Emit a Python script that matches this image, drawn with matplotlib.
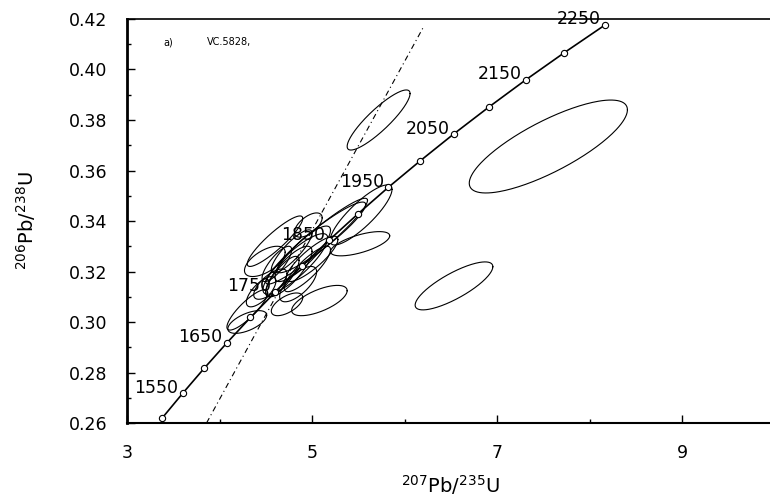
import numpy as np
import matplotlib.pyplot as plt

# concordia ticks (Ma) and their ratios
ages = [1500, 1550, 1600, 1650, 1700, 1750, 1800, 1850,
        1900, 1950, 2000, 2050, 2100, 2150, 2200, 2250]
conc_x = [3.381, 3.603, 3.835, 4.079, 4.335, 4.604, 4.887, 5.184,
          5.496, 5.824, 6.169, 6.530, 6.911, 7.311, 7.729, 8.170]
conc_y = [0.2620, 0.2718, 0.2817, 0.2917, 0.3018, 0.3119, 0.3221, 0.3324,
          0.3428, 0.3533, 0.3638, 0.3744, 0.3851, 0.3959, 0.4067, 0.4177]
labelled = [1550, 1650, 1750, 1850, 1950, 2050, 2150, 2250]

# discordia end points
disc_x = [3.86, 6.20]
disc_y = [0.2600, 0.4165]

# error ellipses: centre, half widths, correlation
ell_x = [7.555, 6.535, 5.72,
         5.53, 5.52, 5.05, 5.10, 5.08, 4.73, 4.30, 4.49, 4.96, 4.30,
         4.60, 4.82, 4.75, 4.90, 4.68, 4.85, 4.95, 4.55, 4.78, 5.00, 4.62, 4.45]
ell_y = [0.3695, 0.3143, 0.3800,
         0.3424, 0.3310, 0.3320, 0.3335, 0.3085, 0.3070, 0.3048, 0.3240, 0.3384, 0.3000,
         0.3320, 0.3230, 0.3200, 0.3270, 0.3180, 0.3150, 0.3210, 0.3150, 0.3280, 0.3250, 0.3230, 0.3120]
ell_sx = [0.855, 0.420, 0.34,
          0.335, 0.32, 0.55, 0.48, 0.30, 0.17, 0.22, 0.22, 0.15, 0.21,
          0.30, 0.35, 0.25, 0.30, 0.18, 0.20, 0.25, 0.18, 0.22, 0.28, 0.16, 0.16]
ell_sy = [0.0184, 0.0095, 0.0119,
          0.0119, 0.0048, 0.0170, 0.0140, 0.0060, 0.0045, 0.0080, 0.0060, 0.0048, 0.0045,
          0.0100, 0.0120, 0.0100, 0.0110, 0.0080, 0.0070, 0.0090, 0.0060, 0.0085, 0.0090, 0.0070, 0.0060]
ell_rho = [0.79, 0.80, 0.88,
           0.85, 0.65, 0.95, 0.93, 0.65, 0.60, 0.85, 0.60, 0.60, 0.60,
           0.90, 0.85, 0.80, 0.85, 0.80, 0.70, 0.85, 0.70, 0.85, 0.85, 0.80, 0.70]

fig = plt.figure(figsize=(7.7, 4.98), dpi=100)
ax = fig.add_axes([127 / 770, 1 - 423 / 498, 647.5 / 770, 404 / 498])

t = np.linspace(0, 2 * np.pi, 200)
for cx, cy, sx, sy, r in zip(ell_x, ell_y, ell_sx, ell_sy, ell_rho):
    ex = cx + sx * np.cos(t)
    ey = cy + sy * (r * np.cos(t) + np.sqrt(1 - r * r) * np.sin(t))
    ax.plot(ex, ey, color='black', lw=0.8, zorder=2)

ax.plot(disc_x, disc_y, color='black', lw=0.8, dashes=(5, 3, 1, 3), zorder=2)
ax.plot(conc_x, conc_y, color='black', lw=1.2, zorder=3)
ax.plot(conc_x, conc_y, 'o', ms=4.5, mfc='white', mec='black', mew=0.8,
        zorder=4, clip_on=False)

for a in labelled:
    i = ages.index(a)
    ax.annotate(str(a), (conc_x[i], conc_y[i]), xytext=(-3, 4),
                textcoords='offset points', ha='right', va='center',
                fontsize=12.5, zorder=5)

ax.text(0.056, 0.943, 'a)', transform=ax.transAxes, fontsize=7, va='center')
ax.text(0.124, 0.943, 'VC.5828,', transform=ax.transAxes, fontsize=7, va='center')

ax.set_xlim(3, 10)
ax.set_ylim(0.26, 0.42)
ax.set_xticks([3, 5, 7, 9])
ax.set_xticks([4, 6, 8], minor=True)
ax.set_yticks(np.arange(0.26, 0.4201, 0.02))
ax.set_yticks(np.arange(0.27, 0.42, 0.02), minor=True)
ax.set_yticklabels(['0.26', '0.28', '0.30', '0.32', '0.34', '0.36', '0.38', '0.40', '0.42'])
ax.tick_params(which='major', direction='in', length=6, width=1, labelsize=12.5)
ax.tick_params(which='minor', direction='in', length=3, width=1)
ax.tick_params(axis='y', pad=14)
ax.tick_params(axis='x', pad=15)

ax.spines['left'].set_linewidth(2)
ax.spines['bottom'].set_linewidth(1.5)
ax.spines['top'].set_linewidth(1.2)
ax.spines['right'].set_visible(False)

ax.set_xlabel(r'$^{207}$Pb/$^{235}$U', fontsize=14, labelpad=8)
ax.set_ylabel(r'$^{206}$Pb/$^{238}$U', fontsize=14, labelpad=22)

fig.savefig('out.png', dpi=100)
